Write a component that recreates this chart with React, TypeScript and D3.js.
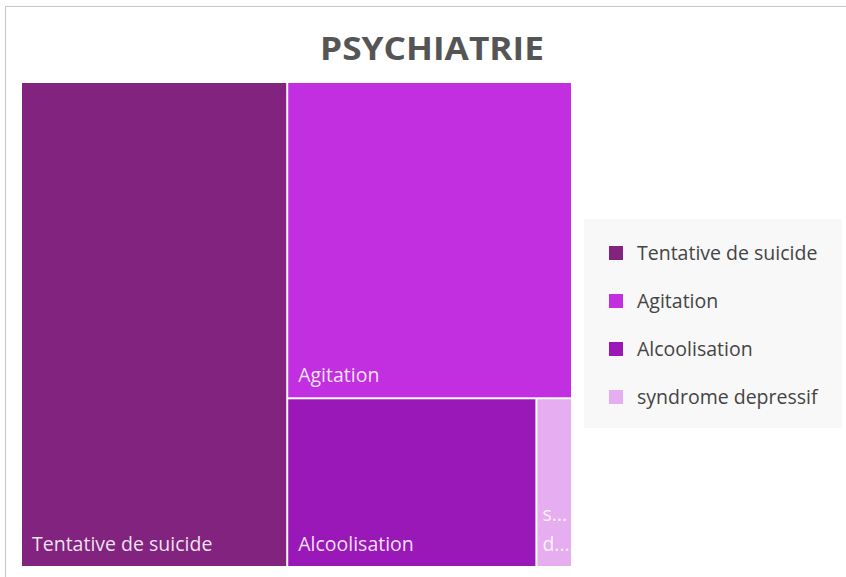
import React, { useEffect, useRef } from 'react';
import * as d3 from 'd3';

const categories = ['Tentative de suicide', 'Agitation', 'Alcoolisation', 'syndrome depressif'];
const values = [43, 30, 14, 2];
const colors = ['#82247f', '#c22fe0', '#9a18b8', '#e6adf0'];
const chartTitle = 'PSYCHIATRIE';

const W = 846;
const H = 577;
const FONT = '"Open Sans", "Noto Sans", sans-serif';

const App = () => {
  const ref = useRef<SVGSVGElement>(null);

  useEffect(() => {
    const svg = d3.select(ref.current);
    svg.selectAll('*').remove();

    // frame
    svg
      .append('rect')
      .attr('x', 5.5)
      .attr('y', 6.5)
      .attr('width', W)
      .attr('height', H)
      .attr('fill', '#fff')
      .attr('stroke', '#c8c8c8');

    svg
      .append('text')
      .attr('x', 432)
      .attr('y', 60)
      .attr('text-anchor', 'middle')
      .attr('font-family', FONT)
      .attr('font-weight', 'bold')
      .attr('font-size', 33)
      .attr('textLength', 224)
      .attr('lengthAdjust', 'spacingAndGlyphs')
      .attr('fill', '#555')
      .text(chartTitle);

    const rows = categories.map((name, i) => ({ name, value: values[i], color: colors[i] }));
    const root = d3
      .hierarchy<any>({ children: rows })
      .sum((d: any) => d.value || 0);

    const tx = 22;
    const ty = 83;
    d3.treemap<any>()
      .tile(d3.treemapSquarify.ratio(1))
      .size([549, 483])
      .paddingInner(2)(root);

    const cells = svg
      .append('g')
      .attr('transform', `translate(${tx},${ty})`)
      .selectAll('g')
      .data(root.leaves() as d3.HierarchyRectangularNode<any>[])
      .join('g');

    cells
      .append('rect')
      .attr('x', (d) => d.x0)
      .attr('y', (d) => d.y0)
      .attr('width', (d) => d.x1 - d.x0)
      .attr('height', (d) => d.y1 - d.y0)
      .attr('fill', (d) => d.data.color);

    cells.each(function (d) {
      const w = d.x1 - d.x0;
      const g = d3.select(this);
      const txt = g
        .append('text')
        .attr('font-family', FONT)
        .attr('font-size', 19.5)
        .attr('fill', '#fff')
        .attr('fill-opacity', 0.88);
      if (w > 60) {
        txt.attr('x', d.x0 + 10).attr('y', d.y1 - 15).text(d.data.name);
      } else {
        // narrow cell: one truncated word per line
        const words = d.data.name.split(' ');
        words.forEach((word: string, i: number) => {
          txt
            .append('tspan')
            .attr('x', d.x0 + 5)
            .attr('y', d.y1 - 15 - (words.length - 1 - i) * 30)
            .text(word[0] + '...');
        });
      }
    });

    // legend
    const legend = svg.append('g');
    legend
      .append('rect')
      .attr('x', 584)
      .attr('y', 219)
      .attr('width', 258)
      .attr('height', 209)
      .attr('fill', '#f8f8f8');

    const ly = d3.scalePoint().domain(categories).range([253, 397]);
    const items = legend.selectAll('g').data(rows).join('g');
    items
      .append('rect')
      .attr('x', 609)
      .attr('y', (d) => ly(d.name)! - 7)
      .attr('width', 14)
      .attr('height', 14)
      .attr('fill', (d) => d.color);
    items
      .append('text')
      .attr('x', 637)
      .attr('y', (d) => ly(d.name)! + 7)
      .attr('font-family', FONT)
      .attr('font-size', 19.5)
      .attr('fill', '#444')
      .text((d) => d.name);
  }, []);

  return (
    <svg
      ref={ref}
      width={W}
      height={H}
      style={{ display: 'block', position: 'absolute', left: 0, top: 0 }}
    />
  );
};

export default App;
